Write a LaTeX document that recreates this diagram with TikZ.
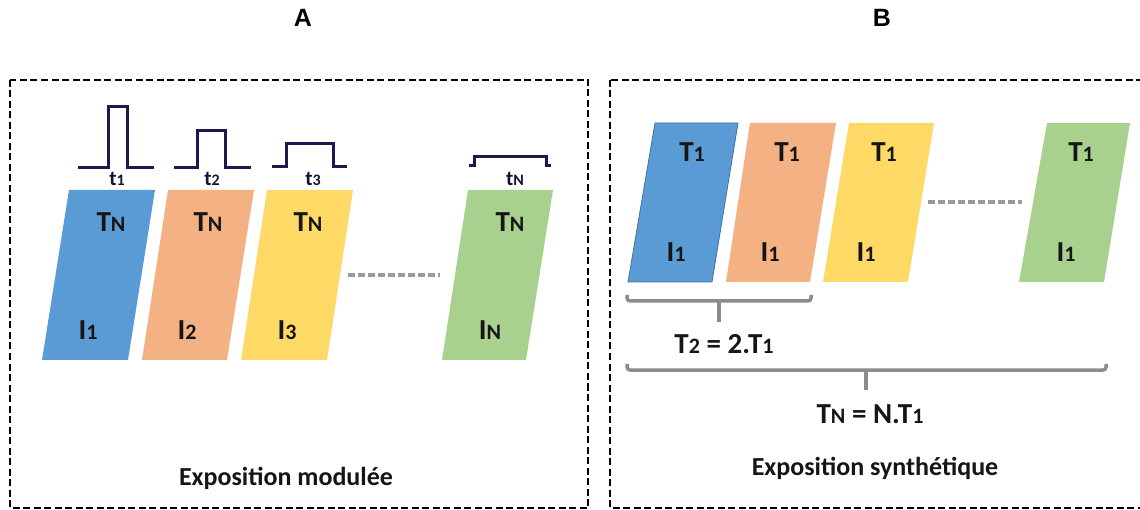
\documentclass[tikz,border=0pt]{standalone}
\usepackage{fontspec}
\setmainfont{Carlito}
\newfontfamily\headfont{Liberation Sans}
\definecolor{cblue}{HTML}{5B9BD5}
\definecolor{cblueline}{HTML}{41719C}
\definecolor{corange}{HTML}{F4B183}
\definecolor{cyellow}{HTML}{FFD966}
\definecolor{cgreen}{HTML}{A9D18E}
\definecolor{pulsecol}{HTML}{1A1A4E}
\definecolor{txtcol}{HTML}{151515}
\definecolor{bracecol}{HTML}{8C8C8C}
\definecolor{dotcol}{HTML}{9A9A9A}
\newcommand\twosize[2]{{\fontsize{29}{29}\selectfont #1}{\fontsize{22}{22}\selectfont #2}}
\newcommand\smallsize[2]{{\fontsize{21}{21}\selectfont #1}{\fontsize{16}{16}\selectfont #2}}
\begin{document}
\begin{tikzpicture}[x=1pt,y=-1pt,
  frame/.style={draw=black,line width=2pt,dash pattern=on 7pt off 3.5pt},
  pulse/.style={draw=pulsecol,line width=3pt,line join=miter},
  lbl/.style={inner sep=0pt,anchor=base,text=txtcol,font=\bfseries},
  tlbl/.style={inner sep=0pt,anchor=base,text=pulsecol!70!black,font=\bfseries},
  biglbl/.style={inner sep=0pt,anchor=base,text=txtcol,font=\bfseries\fontsize{26}{26}\selectfont},
  headlbl/.style={inner sep=0pt,anchor=base,text=black,font=\headfont\bfseries\fontsize{25}{25}\selectfont},
  bracket/.style={draw=bracecol,line width=3.5pt,rounded corners=3pt},
  dotline/.style={draw=dotcol,line width=4.5pt,dash pattern=on 6.5pt off 3.5pt}
]
\useasboundingbox (0,0) rectangle (1140,510);
\begin{scope}
  \clip (0,0) rectangle (1140,510);
  \draw[frame] (10,80) rectangle (588,508);
  \draw[frame] (610,80) rectangle (1152,508);
\end{scope}

% headings
\node[headlbl] (hA) at (303,27) {A};
\node[headlbl] (hB) at (882,27) {B};

% ---------- panel A ----------
\fill[cblue]   (69,190) -- (155,190) -- (128,360) -- (42,360) -- cycle;
\fill[corange] (168,190) -- (254,190) -- (227,360) -- (142,360) -- cycle;
\fill[cyellow] (267,190) -- (353,190) -- (327,360) -- (241,360) -- cycle;
\fill[cgreen]  (468,190) -- (553,190) -- (526,360) -- (442,360) -- cycle;

% pulses
\draw[pulse] (78,168) -- (108,168) -- (108,107) -- (127,107) -- (127,168) -- (154,168);
\draw[pulse] (174,168) -- (197,168) -- (197,131) -- (225,131) -- (225,168) -- (251,168);
\draw[pulse] (272,167) -- (286,167) -- (286,144) -- (333,144) -- (333,167) -- (347,167);
\draw[pulse] (469,166) -- (474,166) -- (474,157) -- (546,157) -- (546,166) -- (551,166);

\node[tlbl] (t1) at (117,186) {\smallsize{t}{1}};
\node[tlbl] (t2) at (212,186) {\smallsize{t}{2}};
\node[tlbl] (t3) at (313,186) {\smallsize{t}{3}};
\node[tlbl] (tN) at (515,186) {\smallsize{t}{N}};

\node[lbl] (aT1) at (111,232) {\twosize{T}{N}};
\node[lbl] (aT2) at (208,232) {\twosize{T}{N}};
\node[lbl] (aT3) at (308,232) {\twosize{T}{N}};
\node[lbl] (aTN) at (510,232) {\twosize{T}{N}};

\node[lbl] (aI1) at (88,340) {\twosize{I}{1}};
\node[lbl] (aI2) at (187,340) {\twosize{I}{2}};
\node[lbl] (aI3) at (287,340) {\twosize{I}{3}};
\node[lbl] (aIN) at (490,340) {\twosize{I}{N}};

\coordinate (adot1) at (348,275);
\coordinate (adot2) at (440,275);
\draw[dotline] (adot1) -- (adot2);

\node[biglbl] (capA) at (286,485) {Exposition modulée};

% ---------- panel B ----------
\filldraw[fill=cblue,draw=cblueline,line width=0.8pt] (655,123) -- (738,123) -- (712,282) -- (628,282) -- cycle;
\fill[corange] (750,123) -- (836,123) -- (810,282) -- (726,282) -- cycle;
\fill[cyellow] (849,123) -- (934,123) -- (908,282) -- (823,282) -- cycle;
\fill[cgreen]  (1047,123) -- (1130,123) -- (1104,282) -- (1019,282) -- cycle;

\node[lbl] (bT1) at (692,162) {\twosize{T}{1}};
\node[lbl] (bT2) at (787,162) {\twosize{T}{1}};
\node[lbl] (bT3) at (884,162) {\twosize{T}{1}};
\node[lbl] (bTN) at (1081,162) {\twosize{T}{1}};

\node[lbl] (bI1) at (676,262) {\twosize{I}{1}};
\node[lbl] (bI2) at (770,262) {\twosize{I}{1}};
\node[lbl] (bI3) at (866,262) {\twosize{I}{1}};
\node[lbl] (bIN) at (1066,262) {\twosize{I}{1}};

\coordinate (bdot1) at (928,202);
\coordinate (bdot2) at (1022,202);
\draw[dotline] (bdot1) -- (bdot2);

% brackets
\coordinate (br1a) at (627,295);
\coordinate (br1b) at (811,295);
\coordinate (br1m) at (719,301);
\coordinate (br1s) at (719,322);
\draw[bracket] (br1a) -- (627,301) -- (811,301) -- (br1b);
\draw[draw=bracecol,line width=3.5pt] (br1m) -- (br1s);
\node[lbl] (eq2) at (724,353) {\twosize{T}{2}\fontsize{29}{29}\selectfont{} = 2.\twosize{T}{1}};

\coordinate (br2a) at (627,364);
\coordinate (br2b) at (1106,364);
\coordinate (br2m) at (866,370);
\coordinate (br2s) at (866,390);
\draw[bracket] (br2a) -- (627,370) -- (1106,370) -- (br2b);
\draw[draw=bracecol,line width=3.5pt] (br2m) -- (br2s);
\node[lbl] (eqN) at (870,423) {\twosize{T}{N}\fontsize{29}{29}\selectfont{} = N.\twosize{T}{1}};

\node[biglbl] (capB) at (875,475) {Exposition synthétique};
\end{tikzpicture}
\end{document}
